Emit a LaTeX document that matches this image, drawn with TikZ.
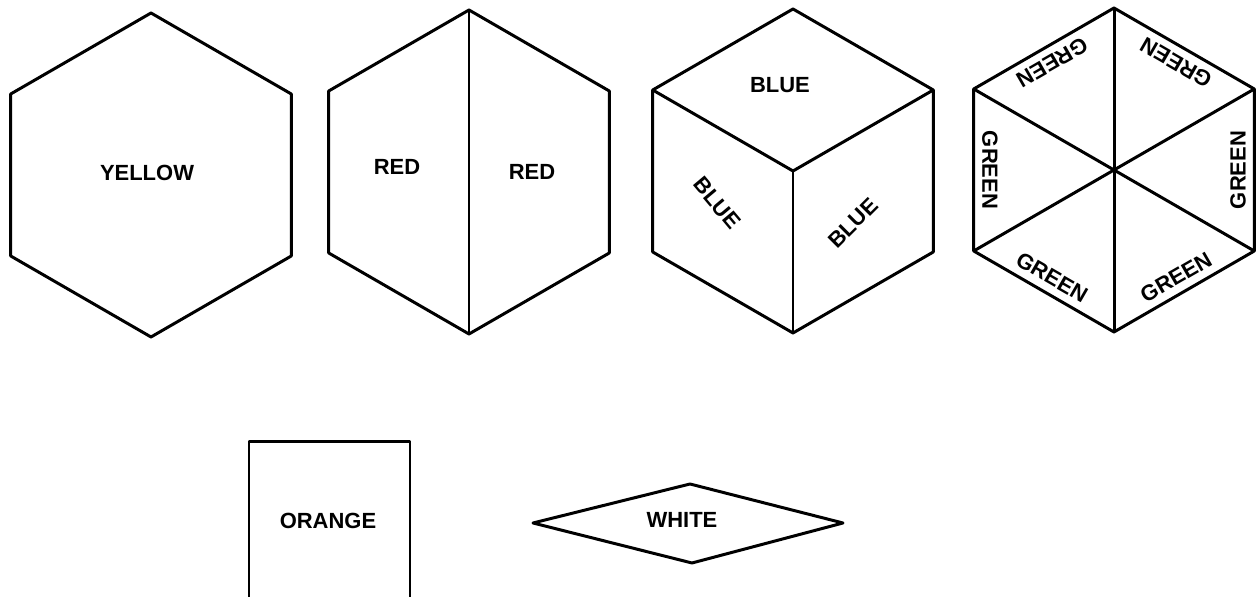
\documentclass[tikz,border=0pt]{standalone}
\usepackage{fontspec}
\setmainfont{Liberation Sans}
\usetikzlibrary{calc}

\begin{document}
\begin{tikzpicture}[x=0.02cm,y=0.02cm,
  line width=1.7pt,line join=round,
  face/.style={font=\fontsize{12.5}{14}\selectfont\bfseries,inner sep=0pt},
]
\useasboundingbox (0,0) rectangle (1259,597);

% the yellow hexagon
\begin{scope}[shift={(151,422)}]
\foreach \i/\a in {1/90,2/150,3/210,4/270,5/330,6/30}
\coordinate (y\i) at (\a:162);
\draw (y1) -- (y2) -- (y3) -- (y4) -- (y5) -- (y6) -- cycle;
\node[face] (yellow) at (-4,2) {YELLOW};
\end{scope}

% the red hexagon, cut in two
\begin{scope}[shift={(469,425)}]
\foreach \i/\a in {1/90,2/150,3/210,4/270,5/330,6/30}
\coordinate (r\i) at (\a:162);
\draw (r1) -- (r2) -- (r3) -- (r4) -- (r5) -- (r6) -- cycle;
\draw (r1) -- (r4);
\node[face] (redl) at (-72,5) {RED};
\node[face] (redr) at (63,0) {RED};
\end{scope}

% the blue cube
\begin{scope}[shift={(793,426)}]
\coordinate (c0) at (0,0);
\foreach \i/\a in {1/90,2/150,3/210,4/270,5/330,6/30}
\coordinate (c\i) at (\a:162);
\draw (c1) -- (c2) -- (c3) -- (c4) -- (c5) -- (c6) -- cycle;
\draw (c2) -- (c0) -- (c6);
\draw (c0) -- (c4);
\node[face] (bluet) at (-13,86) {BLUE};
\node[face,rotate=-50] (bluel) at (-76,-32) {BLUE};
\node[face,rotate=45] (bluer) at (60,-52) {BLUE};
\end{scope}

% the green hexagon, six triangles
\begin{scope}[shift={(1114,427)}]
\foreach \i/\a in {1/90,2/150,3/210,4/270,5/330,6/30}
\coordinate (g\i) at (\a:162);
\draw (g1) -- (g2) -- (g3) -- (g4) -- (g5) -- (g6) -- cycle;
\draw (g1) -- (g4);
\draw (g2) -- (g5);
\draw (g3) -- (g6);
\foreach \a in {0,60,...,300}
\node[face,rotate=\a+90] (green\a) at (\a:124) {GREEN};
\end{scope}

% the orange square, cut by the edge
\coordinate (o1) at (249,0);
\coordinate (o2) at (249,155);
\coordinate (o3) at (410,155);
\coordinate (o4) at (410,0);
\draw (o1) -- (o2) -- (o3) -- (o4);
\node[face] (orange) at (328,76) {ORANGE};

% the white rhombus
\coordinate (w1) at (533,74);
\coordinate (w2) at (690,113);
\coordinate (w3) at (843,74);
\coordinate (w4) at (692,34);
\draw (w1) -- (w2) -- (w3) -- (w4) -- cycle;
\node[face] (white) at (682,77) {WHITE};
\end{tikzpicture}
\end{document}
